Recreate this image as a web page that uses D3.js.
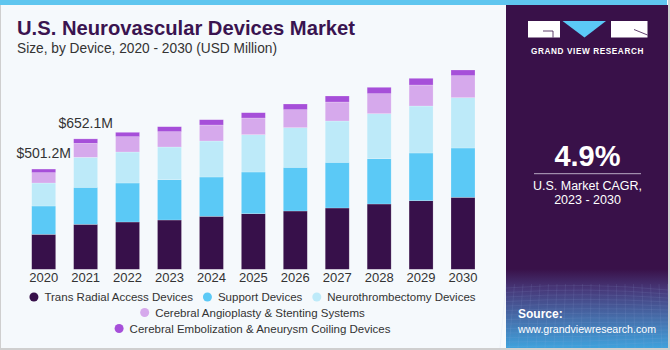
<!DOCTYPE html>
<html><head><meta charset="utf-8">
<script src="https://cdn.jsdelivr.net/npm/d3@7"></script>
<style>html,body{margin:0;padding:0;background:#fff;}svg{display:block;font-family:"Liberation Sans",Arial,sans-serif;}</style>
</head><body>
<svg id="c" width="670" height="350"></svg>
<script>
const years = ["2020","2021","2022","2023","2024","2025","2026","2027","2028","2029","2030"];
const seriesNames = ["Trans Radial Access Devices","Support Devices","Neurothrombectomy Devices","Cerebral Angioplasty & Stenting Systems","Cerebral Embolization & Aneurysm Coiling Devices"];
const seriesColors = ["#37104a","#5bc9f6","#bdeaf9","#d6a9ec","#a64fd9"];
const transRadial = [175,225,236.5,246.5,265,278,291.5,306.5,326.5,343,360];
const support =     [141.5,185,195,201.5,196.5,208.5,218.5,228.5,226.5,238.5,246.5];
const neuro =       [115,150,155,163.5,180,186.5,198,206.5,225,235,251.5];
const angio =       [51.5,70,76.5,76.5,80,83.5,90,95,100,105,110];
const emboli =      [18.2,22.1,22,25,26.5,26.5,28.5,30,32,33.5,28.5];
const valueLabels = [{year:"2020",text:"$501.2M"},{year:"2021",text:"$652.1M"}];
const cagrText = "4.9%";

const svg = d3.select("#c");
// frame
svg.append("rect").attr("width",670).attr("height",350).attr("fill","#cfcfcf");
svg.append("rect").attr("x",1).attr("y",0).attr("width",667).attr("height",348).attr("fill","#f5f9fc");
svg.append("rect").attr("x",0).attr("y",0).attr("width",667).attr("height",5).attr("fill","#5fc6ef");

// right panel
const defs = svg.append("defs");
const g1 = defs.append("linearGradient").attr("id","pg").attr("x1",0).attr("y1",0).attr("x2",0).attr("y2",1);
g1.append("stop").attr("offset","0").attr("stop-color","#391149");
g1.append("stop").attr("offset","0.77").attr("stop-color","#391149");
g1.append("stop").attr("offset","0.83").attr("stop-color","#47397a");
g1.append("stop").attr("offset","0.92").attr("stop-color","#4572ae");
g1.append("stop").attr("offset","1").attr("stop-color","#3fa2dc");
svg.append("rect").attr("x",506).attr("y",5).attr("width",162).attr("height",343).attr("fill","url(#pg)");
// faint mesh lines in lower panel
const mesh = svg.append("g").attr("stroke","#9fb8e0").attr("stroke-opacity",0.18).attr("fill","none").attr("stroke-width",0.6);
for(let i=0;i<14;i++){ mesh.append("path").attr("d",`M506,${288+i*4.5} Q587,${282+i*5} 668,${290+i*4}`); }
for(let i=0;i<20;i++){ mesh.append("path").attr("d",`M${506+i*8.5},284 L${500+i*9},348`); }

// logo
const logo = svg.append("g");
logo.append("rect").attr("x",528).attr("y",21).attr("width",32).attr("height",16.5).attr("fill","#fff");
logo.append("path").attr("d","M543,31 L553,31 L553,37.5").attr("stroke","#391149").attr("stroke-width",0.8).attr("fill","none");
logo.append("path").attr("d","M562.5,21 L606,21 L584.5,37.5 Z").attr("fill","#5bc9f6");
logo.append("rect").attr("x",611).attr("y",21).attr("width",36.5).attr("height",16.5).attr("fill","#fff");
logo.append("path").attr("d","M634,29.5 L647.5,35").attr("stroke","#391149").attr("stroke-width",0.8);
logo.append("text").attr("x",587.5).attr("y",53.5).attr("text-anchor","middle").attr("fill","#fff")
  .attr("font-size",8.2).attr("font-weight","bold").attr("letter-spacing",0.6).text("GRAND VIEW RESEARCH");

// CAGR
svg.append("text").attr("x",587.5).attr("y",166).attr("text-anchor","middle").attr("fill","#fff")
  .attr("font-size",29).attr("font-weight","bold").text(cagrText);
svg.append("line").attr("x1",534).attr("x2",641).attr("y1",173.7).attr("y2",173.7).attr("stroke","#b9aac4").attr("stroke-width",1);
svg.append("text").attr("x",587.5).attr("y",189.5).attr("text-anchor","middle").attr("fill","#fff").attr("font-size",12.5).text("U.S. Market CAGR,");
svg.append("text").attr("x",587.5).attr("y",204).attr("text-anchor","middle").attr("fill","#fff").attr("font-size",12.5).text("2023 - 2030");
svg.append("text").attr("x",518).attr("y",318).attr("fill","#fff").attr("font-size",12).attr("font-weight","bold").text("Source:");
svg.append("text").attr("x",518).attr("y",332.5).attr("fill","#fff").attr("font-size",11.5)
  .attr("textLength",138).attr("lengthAdjust","spacingAndGlyphs").text("www.grandviewresearch.com");

// titles
svg.append("text").attr("x",17).attr("y",35).attr("fill","#3a1450").attr("font-size",20.5).attr("font-weight","bold")
  .attr("textLength",338).attr("lengthAdjust","spacingAndGlyphs").text("U.S. Neurovascular Devices Market");
svg.append("text").attr("x",17).attr("y",53.3).attr("fill","#333").attr("font-size",14)
  .attr("textLength",260).attr("lengthAdjust","spacingAndGlyphs").text("Size, by Device, 2020 - 2030 (USD Million)");

// scales
const step = 41.93;
const x = d3.scaleBand().domain(years).range([43.7-step/2, 463+step/2]).paddingInner(1-24/step).paddingOuter((1-24/step)/2);
const y = d3.scaleLinear().domain([0,1000]).range([269.3,69.3]);

const rows = years.map((yr,i)=>({year:yr, s0:transRadial[i], s1:support[i], s2:neuro[i], s3:angio[i], s4:emboli[i]}));
const keys = ["s0","s1","s2","s3","s4"];
const stacked = d3.stack().keys(keys)(rows);

svg.append("g").selectAll("g").data(stacked).join("g").attr("fill",(d,i)=>seriesColors[i])
  .selectAll("rect").data(d=>d).join("rect")
  .attr("x",d=>x(d.data.year)).attr("width",x.bandwidth())
  .attr("y",d=>y(d[1])).attr("height",d=>y(d[0])-y(d[1]))
  .attr("stroke","#ffffff").attr("stroke-opacity",0.35).attr("stroke-width",0.6);

// axis
const ax = svg.append("g").attr("transform","translate(0,269.3)").call(d3.axisBottom(x).tickSize(0).tickPadding(0));
ax.select(".domain").remove();
ax.selectAll("text").attr("y",13).attr("dy",0).attr("font-size",13).attr("fill","#333").attr("font-family","Liberation Sans, Arial, sans-serif");

// value labels
const totals = years.map((yr,i)=>transRadial[i]+support[i]+neuro[i]+angio[i]+emboli[i]);
svg.append("g").selectAll("text").data(valueLabels).join("text")
  .attr("x",d=>x(d.year)+x.bandwidth()/2)
  .attr("y",d=>y(totals[years.indexOf(d.year)])-11)
  .attr("text-anchor","middle").attr("font-size",14).attr("fill","#333").text(d=>d.text);

// legend
const legendRows = [[0,1,2],[3],[4]];
const legendY = [297,312.5,328.5];
const lg = svg.append("g").attr("font-size",11.5).attr("fill","#333");
legendRows.forEach((r,ri)=>{
  const g = lg.append("g");
  let cx = 0;
  r.forEach(si=>{
    g.append("circle").attr("cx",cx+4.5).attr("cy",legendY[ri]).attr("r",4.5).attr("fill",seriesColors[si]);
    const t = g.append("text").attr("x",cx+15).attr("y",legendY[ri]+4).text(seriesNames[si]);
    cx += 15 + t.node().getComputedTextLength() + 10;
  });
  const w = cx - 10;
  g.attr("transform",`translate(${252.5 - w/2},0)`);
});
</script>
</body></html>
